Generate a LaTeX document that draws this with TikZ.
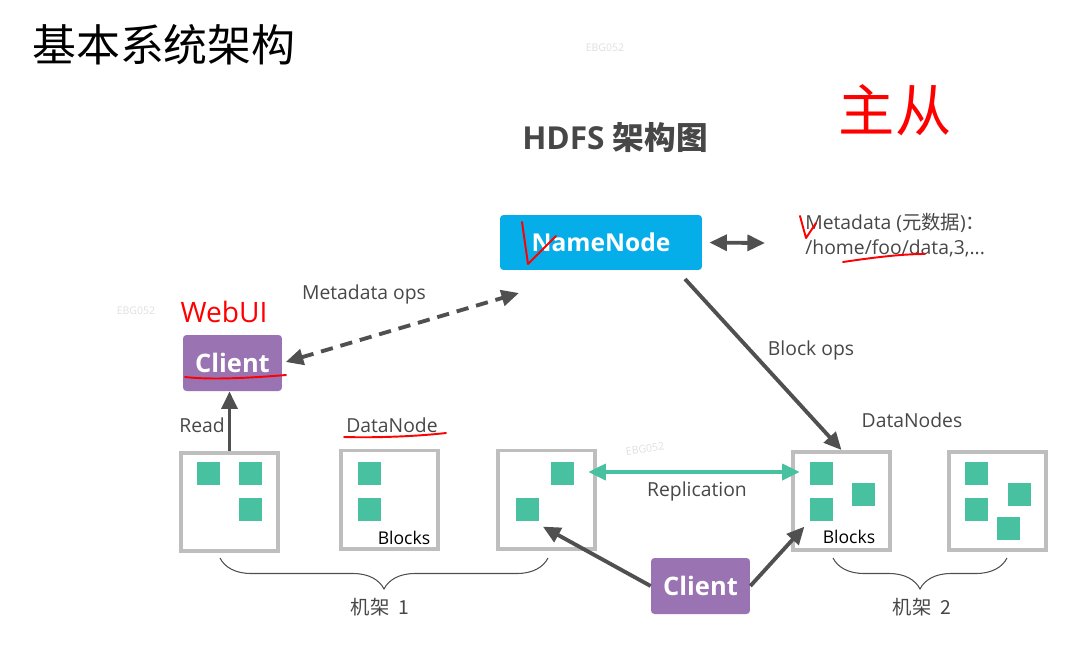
\documentclass[tikz,border=0pt]{standalone}
\usepackage{fontspec}
\setmainfont{Open Sans}
\newfontfamily\cjk{Noto Sans CJK SC}
\usepackage{xcolor}
\usetikzlibrary{positioning}
\usetikzlibrary{arrows.meta}
\usetikzlibrary{decorations.pathreplacing}
\definecolor{nnblue}{HTML}{05ADE9}
\definecolor{clpurple}{HTML}{9A73B2}
\definecolor{blkgreen}{HTML}{47C1A0}
\definecolor{arrgray}{HTML}{505050}
\definecolor{boxgray}{HTML}{BEBEBE}
\definecolor{txtgray}{HTML}{474747}

\begin{document}
\begin{tikzpicture}
        [x = 0.02cm, y = -0.02cm,
        >= {Triangle[length = 10pt, width = 9pt]},
        lbl/.style = {text = txtgray, font = {\fontsize{11}{12}\selectfont}, inner sep = 0},
        dnbox/.style = {draw = boxgray, line width = 2pt, minimum width = 1.95cm, minimum height = 1.97cm, inner sep = 0},
        blk/.style = {fill = blkgreen, minimum size = 0.46cm, inner sep = 0},
        client/.style = {fill = clpurple, rounded corners = 2pt, minimum width = 1.98cm, minimum height = 1.12cm,
            text = white, font = {\fontsize{14.5}{16}\selectfont\bfseries}},
        arr/.style = {draw = arrgray, line width = 2.2pt},
        redpen/.style = {draw = red, line width = 1.1pt, line cap = round, line join = round},
        wmark/.style = {text = gray!25, font = {\fontsize{6}{7}\selectfont}}]
        \useasboundingbox (0, 0) rectangle (1072, 646);
        % titles
        \node (title) [anchor = west, font = {\cjk\fontsize{25}{30}\selectfont}] at (26, 45) {基本系统架构};
        \node (hdfs) [text = txtgray, font = {\fontsize{18}{20}\selectfont\bfseries}] at (615, 138) {HDFS {\cjk 架构图}};
        \node (wm1) [wmark] at (605, 48) {EBG052};
        \node (wm2) [wmark] at (136, 311) {EBG052};
        \node (wm3) [wmark, rotate = 8] at (645, 449) {EBG052};
        % namenode and metadata
        \node (namenode) [fill = nnblue, rounded corners = 2pt, minimum width = 4.04cm, minimum height = 1.1cm,
            text = white, font = {\fontsize{14}{16}\selectfont\bfseries}] at (601, 242.5) {NameNode};
        \coordinate (metatip) at (765, 243);
        \node (meta) [lbl, anchor = north west, align = left, font = {\fontsize{11}{14}\selectfont}] at (805, 213)
            {Metadata ({\cjk 元数据}){\cjk ：}\\/home/foo/data,3,...};
        \draw[arr, <->, shorten <= 4pt] (namenode.east) -- (metatip);
        % clients
        \node (client1) [client] at (232.5, 363) {Client};
        \node (client2) [client] at (700.5, 586) {Client};
        \coordinate (mdtip) at (519, 293);
        \draw[arr, <->, dash pattern = on 7pt off 4.5pt, shorten <= 2pt] (client1.east) -- (mdtip);
        \node (mdops) [lbl] at (364, 294) {Metadata ops};
        % datanodes
        \node (box1) [dnbox] at (229.5, 502) {};
        \node (box2) [dnbox] at (389.5, 499.5) {};
        \node (box3) [dnbox] at (546.5, 499.5) {};
        \node (box4) [dnbox] at (841.5, 501) {};
        \node (box5) [dnbox] at (997.5, 501) {};
        \node (b1a) [blk] at (208.5, 473) {};
        \node (b1b) [blk] at (250.5, 473) {};
        \node (b1c) [blk] at (250.5, 509.5) {};
        \node (b2a) [blk] at (369.5, 473) {};
        \node (b2b) [blk] at (369.5, 509.5) {};
        \node (b3a) [blk] at (562.5, 473) {};
        \node (b3b) [blk] at (527.5, 509.5) {};
        \node (b4a) [blk] at (821.5, 473) {};
        \node (b4b) [blk] at (821.5, 509.5) {};
        \node (b4c) [blk] at (863.5, 494.5) {};
        \node (b5a) [blk] at (976.5, 473) {};
        \node (b5b) [blk] at (976.5, 509.5) {};
        \node (b5c) [blk] at (1019.5, 494.5) {};
        \node (b5d) [blk] at (1008.5, 528.5) {};
        \node (blocks1) [lbl, text = black, font = {\fontsize{10}{12}\selectfont}] at (404, 538) {Blocks};
        \node (blocks2) [lbl, text = black, font = {\fontsize{10}{12}\selectfont}] at (849, 537) {Blocks};
        \node (dnlabel) [lbl] at (392, 425) {DataNode};
        \node (dnslabel) [lbl] at (912, 420) {DataNodes};
        \node (read) [lbl] at (202, 425) {Read};
        \node (blockops) [lbl] at (811, 350) {Block ops};
        \node (repl) [lbl] at (697, 491) {Replication};
        % connectors
        \coordinate (bostart) at (685, 279);
        \draw[arr, ->] (bostart) -- (box4.north);
        \draw[arr, ->] (box1.north) -- (box1.north |- client1.south);
        \coordinate (repline) at (694, 472);
        \draw[draw = blkgreen, line width = 2.2pt, <->] ([xshift = -5pt]repline -| box3.east) -- ([xshift = 5pt]repline -| box4.west);
        \draw[arr, ->] (client2.west) -- ([shift = {(2pt, -3pt)}]b3b.south east);
        \draw[arr, ->] (client2.east) -- ([shift = {(-3pt, -3pt)}]b4b.south west);
        % racks
        \draw[draw = arrgray, line width = 0.6pt, decorate, decoration = {brace, mirror, amplitude = 0.62cm}]
            (220, 558) -- (548, 558);
        \draw[draw = arrgray, line width = 0.6pt, decorate, decoration = {brace, mirror, amplitude = 0.62cm}]
            (833, 558) -- (1007, 558);
        \node (rack1) [lbl, font = {\cjk\fontsize{11}{12}\selectfont}] at (380, 607) {机架\ \ 1};
        \node (rack2) [lbl, font = {\cjk\fontsize{11}{12}\selectfont}] at (922, 607) {机架\ \ 2};
        % red notes
        \node (zhucong) [text = red, font = {\cjk\fontsize{32}{34}\selectfont}] at (895, 110) {主从};
        \node (webui) [text = red, font = {\fontsize{16}{18}\selectfont}] at (224, 312) {WebUI};
        \draw[redpen] (522, 222) -- (528, 264) -- (556, 236);
        \draw[redpen] (800, 216) -- (806, 238) -- (816, 223);
        \draw[redpen] (843, 262) .. controls (870, 258) and (900, 254) .. (925, 254);
        \draw[redpen] (185, 377) .. controls (210, 380) and (250, 378) .. (286, 375);
        \draw[redpen] (344, 437) .. controls (380, 438) and (420, 436) .. (446, 433);
    \end{tikzpicture}
\end{document}
